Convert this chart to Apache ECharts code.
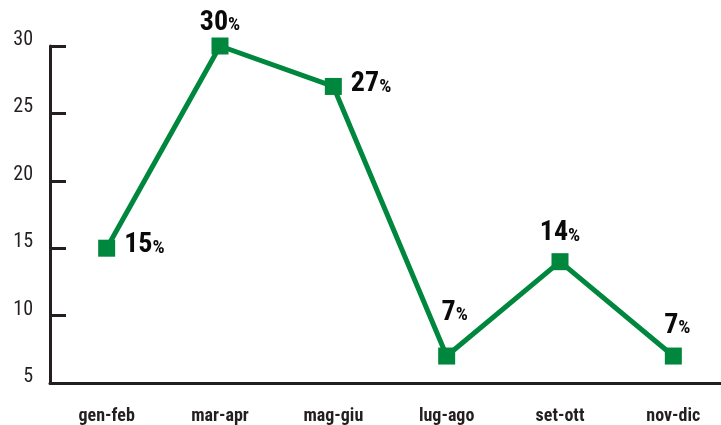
<!DOCTYPE html>
<html><head><meta charset="utf-8">
<script src="https://cdn.jsdelivr.net/npm/echarts@6/dist/echarts.min.js"></script>
<style>html,body{margin:0;padding:0;background:#fff}#c{width:721px;height:425px}</style>
</head><body><div id="c"></div>
<script>
const categories = ['gen-feb','mar-apr','mag-giu','lug-ago','set-ott','nov-dic'];
const values = [15, 30, 27, 7, 14, 7];
const labelPositions = ['right','top','right','top','top','top'];
const labelDistances = [9, 1, 9, 21, 6, 8];
const labelOffsets = [[0,-3],[0,0],[0,-2],[8,0],[0,0],[4,0]];
const yMin = 5, yMax = 30, yStep = 5;

const chart = echarts.init(document.getElementById('c'));
const F = '"Roboto Condensed","DejaVu Sans Condensed","Liberation Sans Narrow","Liberation Sans",sans-serif';
chart.setOption({
  animation: false,
  grid: {left: 50, top: 46, bottom: 42, width: 680, outerBoundsMode: 'none', containLabel: false},
  xAxis: {
    type: 'category', data: categories, boundaryGap: true,
    axisLine: {lineStyle: {color: '#231f20', width: 3}},
    axisTick: {inside: true, length: 8, lineStyle: {color: '#231f20', width: 2}},
    axisLabel: {margin: 24, fontFamily: F, fontWeight: 'bold', fontSize: 18, color: '#231f20'}
  },
  yAxis: {
    type: 'value', min: yMin, max: yMax, interval: yStep,
    splitLine: {show: false},
    axisLine: {show: true, lineStyle: {color: '#231f20', width: 3}},
    axisTick: {show: true, inside: true, length: 16, lineStyle: {color: '#231f20', width: 3}},
    axisLabel: {margin: 17, fontFamily: F, fontSize: 20, color: '#231f20', verticalAlign: 'bottom', lineHeight: 12}
  },
  series: [{
    type: 'line',
    data: values.map((v, i) => ({value: v, label: {position: labelPositions[i], distance: labelDistances[i], offset: labelOffsets[i]}})),
    lineStyle: {color: '#00873e', width: 5},
    itemStyle: {color: '#00873e'},
    symbol: 'rect', symbolSize: 17,
    label: {
      show: true,
      formatter: p => '{n|' + p.value + '}{p|%}',
      rich: {
        n: {fontFamily: F, fontWeight: 'bold', fontSize: 28, color: '#0a0a0a'},
        p: {fontFamily: F, fontWeight: 'bold', fontSize: 19, color: '#0a0a0a', padding: [6,0,0,0]}
      }
    }
  }]
});
</script></body></html>
